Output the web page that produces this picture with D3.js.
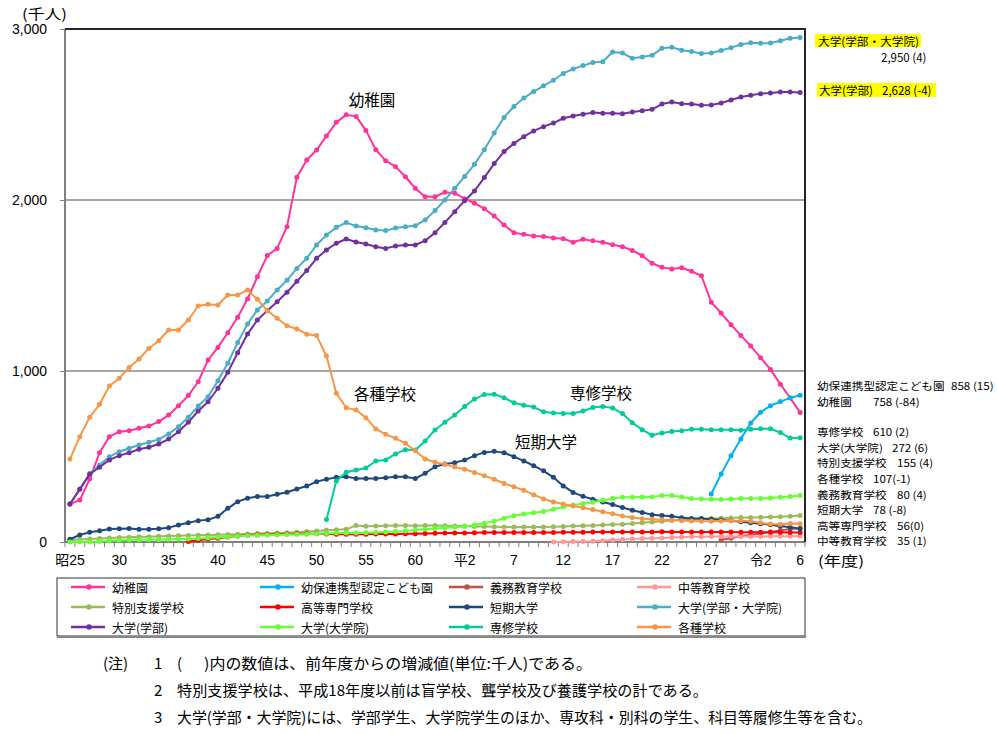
<!DOCTYPE html>
<html><head><meta charset="utf-8">
<script src="https://cdn.jsdelivr.net/npm/d3@7"></script>
<style>
body{margin:0;background:#fff;}
svg{display:block;font-family:"Noto Sans CJK JP","Noto Sans",sans-serif;}
</style>
</head><body>
<svg id="c" width="997" height="734"></svg>
<script>
// ---------------- DATA ----------------
const years = [1950,1951,1952,1953,1954,1955,1956,1957,1958,1959,
  1960,1961,1962,1963,1964,1965,1966,1967,1968,1969,
  1970,1971,1972,1973,1974,1975,1976,1977,1978,1979,
  1980,1981,1982,1983,1984,1985,1986,1987,1988,1989,
  1990,1991,1992,1993,1994,1995,1996,1997,1998,1999,
  2000,2001,2002,2003,2004,2005,2006,2007,2008,2009,
  2010,2011,2012,2013,2014,2015,2016,2017,2018,2019,
  2020,2021,2022,2023,2024];
const tickYears  = [1950,1955,1960,1965,1970,1975,1980,1985,1990,1995,2000,2005,2010,2015,2020,2024];
const tickLabels = ["昭25","30","35","40","45","50","55","60","平2","7","12","17","22","27","令2","6"];
const yTicks = [0,1000,2000,3000];

// values in thousands
const kindergarten = [222,245,368,522,616,645,651,665,678,704,
  742,797,856,937,1064,1138,1224,1314,1421,1551,
  1675,1717,1844,2133,2234,2292,2374,2454,2498,2489,
  2407,2294,2230,2195,2136,2068,2019,2019,2045,2040,
  2008,1981,1949,1906,1854,1808,1799,1790,1786,1778,
  1774,1753,1770,1761,1753,1739,1727,1705,1674,1630,
  1606,1596,1604,1583,1557,1402,1339,1271,1208,1146,
  1078,1009,923,842,758];
const ninteiStart = 2015;
const nintei = [281,397,505,603,696,759,797,821,843,858];
const gimuStart = 2016;
const gimu = [13,22,35,41,50,59,68,76,80];
const chutoStart = 1999;
const chuto = [0.4,1.7,2.2,3.2,4.7,7.5,11,14,17,20,
  22,24,27,28,30,31,32,32,33,32,
  32,32,33,33,34,35];
const tokubetsu = [12,15,18,21,24,26,28,30,31,33,
  35,37,38,40,41,43,44,45,47,49,
  50,52,54,57,61,65,68,71,74,97,
  92,94,95,96,96,95,96,96,95,94,
  93,91,90,89,88,87,87,87,88,89,
  91,93,95,97,99,102,104,108,112,117,
  121,126,130,133,136,138,139,141,143,144,
  145,146,148,151,155];
const kosenStart = 1962;
const kosen = [3,10,17,22,29,35,41,43,
  44,46,47,48,48,48,47,46,46,46,
  46,47,47,47,48,48,49,51,52,53,
  53,54,55,56,56,56,56,56,56,56,
  57,57,57,58,59,59,59,59,59,59,
  60,59,59,58,58,58,58,58,57,57,
  57,57,57,56,56];
const tanki = [16,41,57,66,76,78,79,75,74,78,
  84,99,113,125,130,150,197,236,256,266,
  266,279,291,310,327,353,367,378,382,372,
  371,372,376,382,382,371,402,440,456,464,
  479,505,524,530,522,499,474,446,416,378,
  328,290,267,250,234,219,202,186,172,160,
  155,150,142,138,137,133,129,124,119,113,
  107,101,94,86,78];
const univTotal = [222,310,400,450,499,528,548,567,583,600,
  632,674,729,795,850,943,1045,1166,1275,1357,
  1409,1474,1530,1600,1659,1737,1795,1840,1868,1848,
  1838,1825,1821,1836,1844,1850,1883,1938,2000,2068,
  2137,2209,2294,2392,2483,2547,2596,2634,2668,2701,
  2740,2766,2786,2804,2809,2865,2859,2829,2836,2846,
  2887,2893,2876,2869,2856,2860,2874,2891,2909,2919,
  2916,2918,2931,2946,2950];
const univUG = [222,308,396,437,480,505,522,542,554,573,
  602,645,700,766,820,899,992,1107,1216,1298,
  1353,1405,1460,1525,1587,1659,1708,1747,1772,1754,
  1743,1727,1717,1731,1737,1737,1762,1809,1868,1932,
  1996,2053,2131,2213,2283,2331,2370,2404,2429,2450,
  2478,2491,2501,2511,2507,2507,2505,2515,2522,2530,
  2561,2573,2563,2561,2554,2556,2567,2585,2602,2612,
  2622,2626,2632,2632,2628];
const grad = [0.2,1,1,3,7,10,12,13,14,15,
  16,17,18,21,24,28,31,35,38,40,
  41,42,44,45,46,48,50,52,53,53,
  54,56,58,61,65,70,75,79,83,86,
  90,99,110,122,139,154,164,171,179,192,
  205,216,224,232,244,254,261,262,263,263,
  272,272,263,255,251,250,249,251,254,255,
  254,258,262,266,272];
const senshuStart = 1976;
const senshu = [131,357,408,421,433,
  474,480,515,540,538,591,655,700,743,
  792,836,862,864,844,814,800,789,762,754,
  751,752,766,786,792,784,751,697,657,624,
  638,646,650,660,659,656,656,656,653,660,
  662,662,640,608,610];
const kakushu = [485,616,729,805,912,957,1021,1070,1132,1177,
  1240,1240,1298,1380,1390,1386,1444,1444,1474,1419,
  1353,1308,1265,1246,1215,1207,1088,870,785,772,
  727,661,630,606,577,534,485,466,454,438,
  425,407,388,367,342,323,302,277,252,234,
  222,210,200,190,177,165,152,143,136,133,
  130,127,125,123,122,122,123,124,125,121,
  112,105,104,108,107];

const seriesNames = ["幼稚園","幼保連携型認定こども園","義務教育学校","中等教育学校",
  "特別支援学校","高等専門学校","短期大学","大学(学部・大学院)",
  "大学(学部)","大学(大学院)","専修学校","各種学校"];
const seriesColors = ["#FF3399","#00B0F0","#C0504D","#FF9999",
  "#9BBB59","#FF0000","#1F497D","#4BACC6",
  "#7030A0","#66FF33","#00CC99","#F79646"];
const seriesValues = [kindergarten,nintei,gimu,chuto,tokubetsu,kosen,tanki,univTotal,univUG,grad,senshu,kakushu];
const seriesStarts = [1950,ninteiStart,gimuStart,chutoStart,1950,kosenStart,1950,1950,1950,1950,senshuStart,1950];

const rightLabels = [
  {name:"幼保連携型認定こども園", val:"858 (15)"},
  {name:"幼稚園", val:"758 (-84)"},
  {name:"専修学校", val:"610 (2)"},
  {name:"大学(大学院)", val:"272 (6)"},
  {name:"特別支援学校", val:"155 (4)"},
  {name:"各種学校", val:"107(-1)"},
  {name:"義務教育学校", val:"80 (4)"},
  {name:"短期大学", val:"78 (-8)"},
  {name:"高等専門学校", val:"56(0)"},
  {name:"中等教育学校", val:"35 (1)"}
];

// ---------------- LAYOUT ----------------
const svg = d3.select("#c");
const L = 65, R = 805, T = 29, B = 542;
const x = d3.scaleBand().domain(years).range([L, R]).paddingInner(0).paddingOuter(0);
const cx = yr => x(yr) + x.bandwidth() / 2;
const y = d3.scaleLinear().domain([0, 3000]).range([B, T]);

const series = seriesNames.map((n, i) => ({
  name: n, color: seriesColors[i],
  pts: seriesValues[i].map((v, k) => ({yr: seriesStarts[i] + k, v}))
}));

// gridlines
svg.append("g").selectAll("line").data([1000, 2000]).join("line")
  .attr("x1", L).attr("x2", R).attr("y1", d => y(d)).attr("y2", d => y(d))
  .attr("stroke", "#A6A6A6").attr("stroke-width", 2);

// x axis with labels
const xAxis = svg.append("g").attr("transform", `translate(0,${B})`)
  .call(d3.axisBottom(x).tickValues(tickYears).tickSize(0).tickPadding(13)
    .tickFormat(d => tickLabels[tickYears.indexOf(d)]));
xAxis.select(".domain").remove();
xAxis.selectAll("text").attr("font-size", 14).attr("fill", "#000")
  .attr("font-family", '"Liberation Sans","Noto Sans CJK JP",sans-serif');

// minor ticks at every category boundary
const bounds = years.map(d => x(d)).concat([R]);
svg.append("g").selectAll("line").data(bounds).join("line")
  .attr("x1", d => d).attr("x2", d => d).attr("y1", B).attr("y2", B + 5)
  .attr("stroke", "#808080").attr("stroke-width", 1);

// y axis
const yAxis = svg.append("g").attr("transform", `translate(${L},0)`)
  .call(d3.axisLeft(y).tickValues(yTicks).tickSize(5).tickPadding(13).tickFormat(d3.format(",")));
yAxis.select(".domain").remove();
yAxis.selectAll("line").attr("stroke", "#808080");
yAxis.selectAll("text").attr("font-size", 14).attr("fill", "#000")
  .attr("font-family", '"Liberation Sans",sans-serif');

// frame
svg.append("line").attr("x1", L).attr("x2", L).attr("y1", T).attr("y2", B).attr("stroke", "#808080").attr("stroke-width", 2);
svg.append("line").attr("x1", L).attr("x2", R).attr("y1", B).attr("y2", B).attr("stroke", "#808080").attr("stroke-width", 2);
svg.append("line").attr("x1", L).attr("x2", R + 1).attr("y1", T).attr("y2", T).attr("stroke", "#262626").attr("stroke-width", 2);
svg.append("line").attr("x1", R).attr("x2", R).attr("y1", T).attr("y2", B).attr("stroke", "#262626").attr("stroke-width", 2);

// lines + markers
const line = d3.line().x(d => cx(d.yr)).y(d => y(d.v));
const sg = svg.append("g").selectAll("g").data(series).join("g");
sg.append("path").attr("d", d => line(d.pts)).attr("fill", "none")
  .attr("stroke", d => d.color).attr("stroke-width", 2).attr("stroke-linejoin", "round");
sg.each(function(s) {
  d3.select(this).selectAll("circle").data(s.pts).join("circle")
    .attr("cx", d => cx(d.yr)).attr("cy", d => y(d.v)).attr("r", 2.5).attr("fill", s.color);
});

// axis titles
svg.append("text").attr("x", 22).attr("y", 19).attr("font-size", 14).attr("textLength", 45)
  .attr("lengthAdjust", "spacingAndGlyphs").text("(千人)");
svg.append("text").attr("x", 818).attr("y", 566).attr("font-size", 14).attr("textLength", 46)
  .attr("lengthAdjust", "spacingAndGlyphs").text("(年度)");

// chart labels
const chartLabels = [
  {t:"幼稚園", x:372, y:99},
  {t:"各種学校", x:385, y:393},
  {t:"専修学校", x:601, y:392},
  {t:"短期大学", x:546, y:441}
];
svg.append("g").selectAll("text").data(chartLabels).join("text")
  .attr("x", d => d.x).attr("y", d => d.y).attr("text-anchor", "middle")
  .attr("dominant-baseline", "central").attr("font-size", 15.5).attr("fill", "#000").text(d => d.t);

// highlighted university labels
svg.append("rect").attr("x", 815).attr("y", 34).attr("width", 106).attr("height", 13).attr("fill", "#FFFF00");
svg.append("text").attr("x", 818).attr("y", 40.5).attr("dominant-baseline", "central").attr("font-size", 11.5)
  .attr("textLength", 101).attr("lengthAdjust", "spacingAndGlyphs").text("大学(学部・大学院)");
svg.append("text").attr("x", 881).attr("y", 57).attr("dominant-baseline", "central").attr("font-size", 11.5)
  .text("2,950 (4)");
svg.append("rect").attr("x", 817).attr("y", 83).attr("width", 119).attr("height", 14).attr("fill", "#FFFF00");
svg.append("text").attr("x", 819).attr("y", 90).attr("dominant-baseline", "central").attr("font-size", 11.5)
  .attr("textLength", 54).attr("lengthAdjust", "spacingAndGlyphs").text("大学(学部)");
svg.append("text").attr("x", 882).attr("y", 90).attr("dominant-baseline", "central").attr("font-size", 11.5)
  .text("2,628 (-4)");

// right-side value labels (slightly condensed height so rows do not collide)
const rlY = [385, 401.7, 431.7, 447.3, 462.8, 478.4, 494, 509.5, 525.1, 540.7];
const rlValX = [951, 873, 873, 892, 897, 873, 897, 873, 897, 897];
const rg = svg.append("g").selectAll("g").data(rightLabels).join("g");
function fitText(sel, wideSize, smallSize) {
  sel.attr("font-size", wideSize).each(function() {
    const w = this.getComputedTextLength();
    d3.select(this).attr("font-size", smallSize).attr("textLength", w).attr("lengthAdjust", "spacingAndGlyphs");
  });
}
fitText(rg.append("text").attr("x", 817).attr("y", (d, i) => rlY[i]).attr("dominant-baseline", "central")
  .text(d => d.name), 11.6, 10.4);
fitText(rg.append("text").attr("x", (d, i) => rlValX[i]).attr("y", (d, i) => rlY[i]).attr("dominant-baseline", "central")
  .text(d => d.val), 11.6, 10.4);

// legend
svg.append("rect").attr("x", 57).attr("y", 578).attr("width", 748).attr("height", 58)
  .attr("fill", "#fff").attr("stroke", "#333").attr("stroke-width", 1);
svg.append("line").attr("x1", 57).attr("x2", 806).attr("y1", 637).attr("y2", 637)
  .attr("stroke", "#888").attr("stroke-width", 2);
const colX = [71, 260, 449, 637];
const rowY = [587, 607, 627];
const lg = svg.append("g").selectAll("g").data(series).join("g")
  .attr("transform", (d, i) => `translate(${colX[i % 4]},${rowY[Math.floor(i / 4)]})`);
lg.append("line").attr("x1", 0).attr("x2", 34).attr("stroke", d => d.color).attr("stroke-width", 2.5);
lg.append("circle").attr("cx", 18).attr("r", 2.8).attr("fill", d => d.color);
lg.append("text").attr("x", 41).attr("dominant-baseline", "central").attr("font-size", 12).text(d => d.name);

// notes
const notes = svg.append("g").attr("font-size", 15).attr("fill", "#000");
notes.append("text").attr("x", 103).attr("y", 669).text("(注)");
notes.append("text").attr("x", 154).attr("y", 669).text("1");
notes.append("text").attr("x", 177).attr("y", 669).text("(");
notes.append("text").attr("x", 204).attr("y", 669).attr("textLength", 388).attr("lengthAdjust", "spacingAndGlyphs")
  .text(")内の数値は、前年度からの増減値(単位:千人)である。");
notes.append("text").attr("x", 154).attr("y", 696).text("2");
notes.append("text").attr("x", 177).attr("y", 696).attr("textLength", 531).attr("lengthAdjust", "spacingAndGlyphs")
  .text("特別支援学校は、平成18年度以前は盲学校、聾学校及び養護学校の計である。");
notes.append("text").attr("x", 154).attr("y", 723).text("3");
notes.append("text").attr("x", 177).attr("y", 723).attr("textLength", 695).attr("lengthAdjust", "spacingAndGlyphs")
  .text("大学(学部・大学院)には、学部学生、大学院学生のほか、専攻科・別科の学生、科目等履修生等を含む。");
</script>
</body></html>
